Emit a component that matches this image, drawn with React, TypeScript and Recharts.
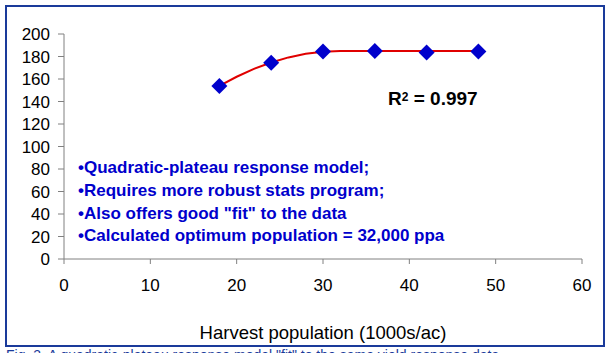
import React from 'react';
import { ComposedChart, Line, Scatter, XAxis, YAxis, Label } from 'recharts';

const populations = [18, 24, 30, 36, 42, 48];
const yields = [153.8, 174.5, 184.5, 185, 183.5, 184.5];
const fitPopulations = [18, 20, 22, 24, 26, 28, 30, 32, 48];
const fitYields = [153.8, 162.0, 169.0, 174.7, 179.2, 182.4, 184.3, 184.9, 184.9];
const xTicks = [0, 10, 20, 30, 40, 50, 60];
const yTicks = [0, 20, 40, 60, 80, 100, 120, 140, 160, 180, 200];
const notes = [
  'Quadratic-plateau response model;',
  'Requires more robust stats program;',
  'Also offers good "fit" to the data',
  'Calculated optimum population = 32,000 ppa',
];
const xTitle = 'Harvest population (1000s/ac)';
const r2Value = '0.997';
const caption = 'Fig. 3. A quadratic-plateau response model "fit" to the same yield response data';

const observed = populations.map((x, i) => ({ x, y: yields[i] }));
const fitted = fitPopulations.map((x, i) => ({ x, y: fitYields[i] }));

const FONT = '"Liberation Sans", Arial, sans-serif';

const Diamond = (props: any) => {
  const { cx, cy } = props;
  const r = 8;
  return (
    <polygon
      points={`${cx},${cy - r} ${cx + r},${cy} ${cx},${cy + r} ${cx - r},${cy}`}
      fill="#0000CC"
    />
  );
};

export default function App() {
  return (
    <div
      style={{
        position: 'fixed',
        left: 0,
        top: 0,
        width: 612,
        height: 353,
        overflow: 'hidden',
        background: '#fff',
        fontFamily: FONT,
      }}
    >
      <div
        style={{
          position: 'absolute',
          left: 5,
          top: 5,
          width: 600,
          height: 342,
          border: '2px solid #1a3a9a',
          boxSizing: 'border-box',
        }}
      />
      <div style={{ position: 'absolute', left: 0, top: 0 }}>
        <ComposedChart
          width={612}
          height={353}
          margin={{ top: 34, right: 30, bottom: 14, left: 0 }}
        >
          <XAxis
            type="number"
            dataKey="x"
            domain={[0, 60]}
            ticks={xTicks}
            interval={0}
            allowDataOverflow
            stroke="#808080"
            tickSize={5}
            tickMargin={15}
            height={80}
            tick={{ fill: '#000', fontSize: 17, fontFamily: FONT }}
          >
            <Label
              value={xTitle}
              position="insideBottom"
              offset={0}
              style={{ fill: '#000', fontSize: 18.5, fontFamily: FONT }}
            />
          </XAxis>
          <YAxis
            type="number"
            dataKey="y"
            domain={[0, 200]}
            ticks={yTicks}
            interval={0}
            width={64}
            stroke="#808080"
            tickSize={6}
            tickMargin={8}
            tick={{ fill: '#000', fontSize: 17, fontFamily: FONT }}
          />
          <Line
            data={fitted}
            dataKey="y"
            type="linear"
            stroke="#E00000"
            strokeWidth={2}
            dot={false}
            activeDot={false}
            isAnimationActive={false}
          />
          <Scatter
            data={observed}
            dataKey="y"
            shape={Diamond}
            isAnimationActive={false}
          />
        </ComposedChart>
      </div>
      <div
        style={{
          position: 'absolute',
          left: 388,
          top: 87,
          fontSize: 19,
          fontWeight: 'bold',
          color: '#000',
          whiteSpace: 'nowrap',
          lineHeight: '24px',
        }}
      >
        R<sup style={{ fontSize: 12, verticalAlign: 'top', position: 'relative', top: -2 }}>2</sup> = {r2Value}
      </div>
      {notes.map((t, i) => (
        <div
          key={i}
          style={{
            position: 'absolute',
            left: 78,
            top: 157 + i * 22.8,
            fontSize: 17,
            lineHeight: '22px',
            fontWeight: 'bold',
            color: '#0000CC',
            whiteSpace: 'nowrap',
          }}
        >
          •{t}
        </div>
      ))}
      <div
        style={{
          position: 'absolute',
          left: 6,
          top: 347,
          fontSize: 14,
          color: '#1a3a9a',
          whiteSpace: 'nowrap',
        }}
      >
        {caption}
      </div>
    </div>
  );
}
